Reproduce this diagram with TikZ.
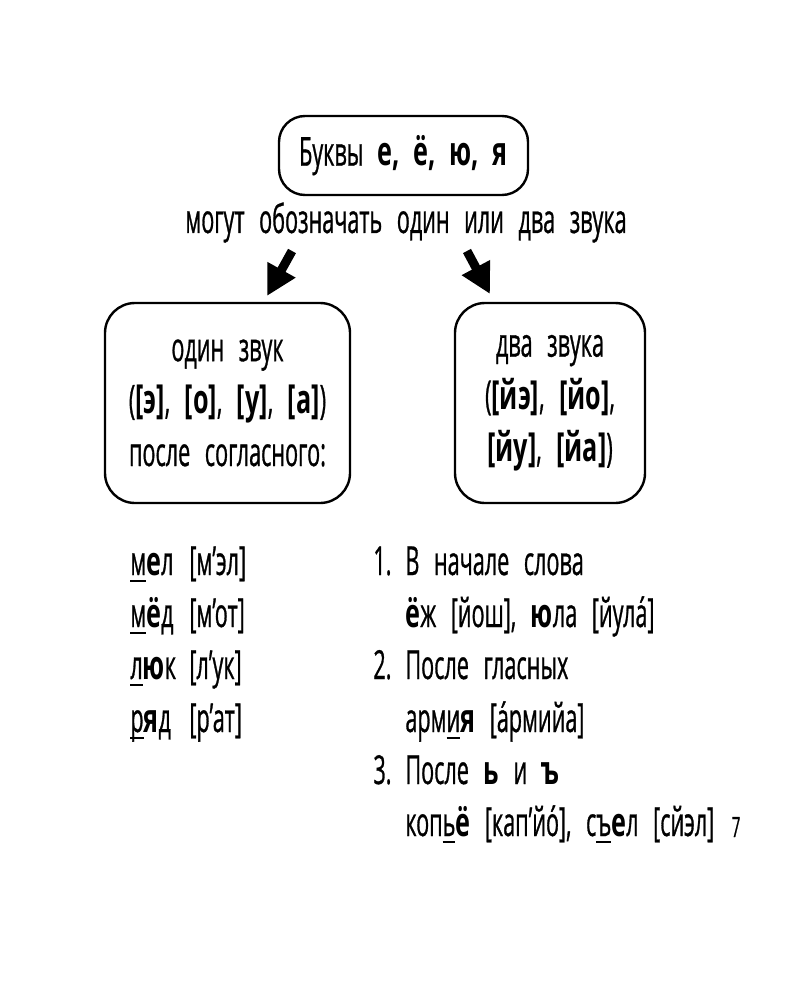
\documentclass[tikz,border=0pt]{standalone}
\usepackage{fontspec}
\setmainfont[WordSpace=2.6,UprightFeatures={FakeStretch=0.54,FakeBold=0.7},BoldFeatures={FakeStretch=0.63,WordSpace=2.1}]{Open Sans}
\usetikzlibrary{arrows.meta}
\newcommand\myul[1]{\setbox0\hbox{#1}\rlap{\rule[-3.5pt]{\wd0}{0.8pt}}#1}
\tikzset{
  every node/.style={font=\fontsize{20}{26.2}\selectfont, inner sep=0pt},
  boxed/.style={draw, line width=1.2pt, rounded corners=13pt, align=center},
  txt/.style={anchor=base west},
  bigarrow/.style={line width=4.5pt, -{Triangle[length=15pt,width=15pt]}}
}
\begin{document}
\begin{tikzpicture}[x=0.5pt,y=-0.5pt]
\useasboundingbox (0,0) rectangle (800,1000);
\node[boxed, minimum width=124.5pt, minimum height=39.5pt] (top) at (403.5,155.5) {Буквы \textbf{е, ё, ю, я}};
\node[anchor=base] (sub) at (406,233) {могут обозначать один или два звука};
\coordinate (la1) at (292,251);
\coordinate (la2) at (267,296);
\coordinate (ra1) at (467,251);
\coordinate (ra2) at (490,294);
\draw[bigarrow] (la1) -- (la2);
\draw[bigarrow] (ra1) -- (ra2);
\node[boxed, rounded corners=15pt, minimum width=122.5pt, minimum height=100pt] (one) at (227.5,403)
  {один звук\\(\textbf{[э]}, \textbf{[о]}, \textbf{[у]}, \textbf{[а]})\\после согласного:};
\node[boxed, rounded corners=15pt, minimum width=95pt, minimum height=100pt] (two) at (550,403)
  {два звука\\(\textbf{[йэ]}, \textbf{[йо]},\\\textbf{[йу]}, \textbf{[йа]})};
% left list
\node[txt] (w1) at (130,575) {\myul{м}\textbf{е}л};
\node[txt] (t1) at (189,575) {[м’эл]};
\node[txt] (w2) at (130,627) {\myul{м}\textbf{ё}д};
\node[txt] (t2) at (189,627) {[м’от]};
\node[txt] (w3) at (130,679) {\myul{л}\textbf{ю}к};
\node[txt] (t3) at (189,679) {[л’ук]};
\node[txt] (w4) at (130,732) {\myul{р}\textbf{я}д};
\node[txt] (t4) at (189,732) {[р’ат]};
% right list
\node[txt] (n1) at (373,575) {1.};
\node[txt] (r1) at (405,575) {В начале слова};
\node[txt] (r1b) at (405,627) {\textbf{ё}ж [йош], \textbf{ю}ла [йулá]};
\node[txt] (n2) at (373,679) {2.};
\node[txt] (r2) at (405,679) {После гласных};
\node[txt] (r2b) at (405,732) {арм\myul{и}\textbf{я} [áрмийа]};
\node[txt] (n3) at (373,784) {3.};
\node[txt] (r3) at (405,784) {После \textbf{ь} и \textbf{ъ}};
\node[txt] (r3b) at (405,836) {коп\myul{ь}\textbf{ё} [кап’йó], с\myul{ъ}\textbf{е}л [сйэл]};
\node[anchor=base, font=\fontsize{14}{16}\selectfont] (pg) at (736,837) {7};
\end{tikzpicture}
\end{document}
